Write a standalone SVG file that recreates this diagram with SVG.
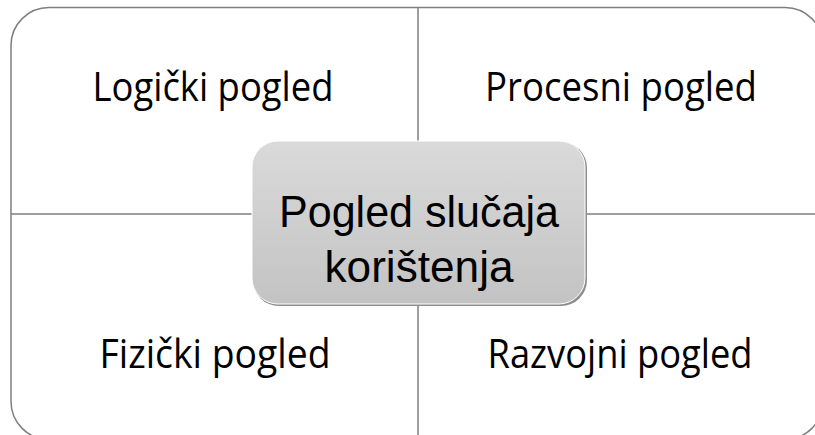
<svg xmlns="http://www.w3.org/2000/svg" width="815" height="435" viewBox="0 0 815 435">
<defs>
<linearGradient id="g" x1="0" y1="0" x2="0" y2="1">
<stop offset="0" stop-color="#dadada"/>
<stop offset="1" stop-color="#c3c3c3"/>
</linearGradient>
</defs>
<style>
.q{font-family:"Open Sans","Liberation Sans",sans-serif;font-size:40px;fill:#000;text-anchor:middle}
.c{font-family:"Liberation Sans","Open Sans",sans-serif;font-size:44px;fill:#000;text-anchor:middle}
.ln{stroke:#7f7f7f;stroke-width:1.5;fill:none}
</style>
<rect width="815" height="435" fill="#fff"/>
<g id="frame">
<path d="M49,7.5 H785 A38,38 0 0 1 823,45.5 V401.5 A38,38 0 0 1 785,439.5 H49 A38,38 0 0 1 11,401.5 V45.5 A38,38 0 0 1 49,7.5 Z" class="ln"/>
</g>
<g id="connectors">
<line x1="418" y1="7.5" x2="418" y2="141" class="ln"/>
<line x1="418" y1="305" x2="418" y2="440" class="ln"/>
<line x1="11" y1="214" x2="252" y2="214" class="ln"/>
<line x1="586" y1="214" x2="823" y2="214" class="ln"/>
</g>
<g id="q1"><text x="213" y="101" class="q" textLength="241" lengthAdjust="spacingAndGlyphs">Logički pogled</text></g>
<g id="q2"><text x="621" y="101" class="q" textLength="272" lengthAdjust="spacingAndGlyphs">Procesni pogled</text></g>
<g id="q3"><text x="215" y="368" class="q" textLength="231" lengthAdjust="spacingAndGlyphs">Fizički pogled</text></g>
<g id="q4"><text x="620" y="368" class="q" textLength="265" lengthAdjust="spacingAndGlyphs">Razvojni pogled</text></g>
<g id="center">
<rect x="253" y="142" width="334" height="164" rx="26" ry="26" fill="#8c8c8c"/>
<rect x="252" y="141" width="333" height="163" rx="26" ry="26" fill="url(#g)" stroke="#ffffff" stroke-width="1"/>
<text x="419" y="227" class="c" textLength="280" lengthAdjust="spacingAndGlyphs">Pogled slučaja</text>
<text x="419" y="282" class="c" textLength="189" lengthAdjust="spacingAndGlyphs">korištenja</text>
</g>
</svg>
